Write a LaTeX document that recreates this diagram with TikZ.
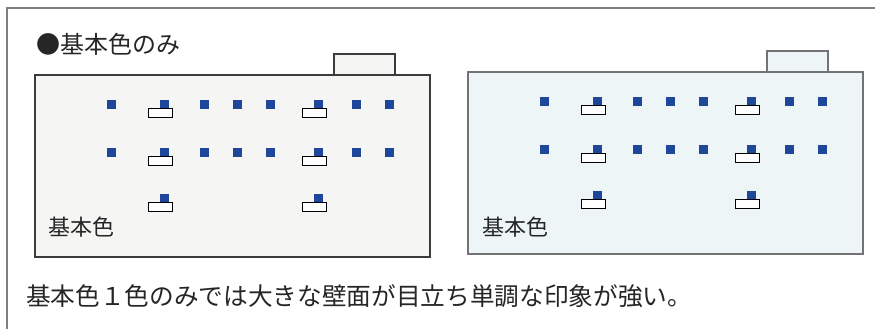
\documentclass[tikz,border=0pt]{standalone}
\usepackage{fontspec}
\setmainfont{Noto Sans CJK JP}
\definecolor{frame}{RGB}{128,128,128}
\definecolor{edgeL}{RGB}{60,60,60}
\definecolor{edgeR}{RGB}{115,115,115}
\definecolor{fillL}{RGB}{245,245,243}
\definecolor{fillR}{RGB}{238,245,247}
\definecolor{dotblue}{RGB}{30,70,155}
\begin{document}
\begin{tikzpicture}[x=0.75pt,y=-0.75pt,
  dot/.style={fill=dotblue,draw=none},
  sill/.style={draw=black,fill=white,line width=0.75pt},
  wall/.style={line width=0.8pt},
  txt/.style={inner sep=0pt,anchor=west,text=black!85}]
\useasboundingbox (0,0) rectangle (875,329);
\fill[white] (0,0) rectangle (875,329);
\draw[frame,line width=1.1pt] (7,329) -- (7,8) -- (875,8);
\node[txt,font=\fontsize{18pt}{20pt}\selectfont] (title) at (36,44) {●基本色のみ};
% two panels
\foreach \dx/\dy/\fc/\ec [count=\i] in {0/0/fillL/edgeL,433/-3/fillR/edgeR}{
  \begin{scope}[shift={(\dx,\dy)}]
    \draw[wall,draw=\ec,fill=\fc] (334,75) rectangle (395,54);
    \draw[wall,draw=\ec,fill=\fc] (35,75) rectangle (430,257);
    \foreach \y in {100,148}{
      \foreach \x in {111,164,204,237,270,318,356,389}{
        \fill[dot] (\x-4.5,\y) rectangle ++(9,9);
      }
      \draw[sill] (148,\y+8) rectangle ++(24,9);
      \draw[sill] (302,\y+8) rectangle ++(24,9);
    }
    \fill[dot] (164-4.5,194) rectangle ++(9,9);
    \fill[dot] (318-4.5,194) rectangle ++(9,9);
    \draw[sill] (148,202) rectangle ++(24,9);
    \draw[sill] (302,202) rectangle ++(24,9);
  \end{scope}
}
\node[txt,font=\fontsize{16.5pt}{18pt}\selectfont] (labL) at (48,227) {基本色};
\node[txt,font=\fontsize{16.5pt}{18pt}\selectfont] (labR) at (482,227) {基本色};
\node[txt,font=\fontsize{18.5pt}{20pt}\selectfont] (caption) at (26,296) {基本色１色のみでは大きな壁面が目立ち単調な印象が強い。};
\end{tikzpicture}
\end{document}
